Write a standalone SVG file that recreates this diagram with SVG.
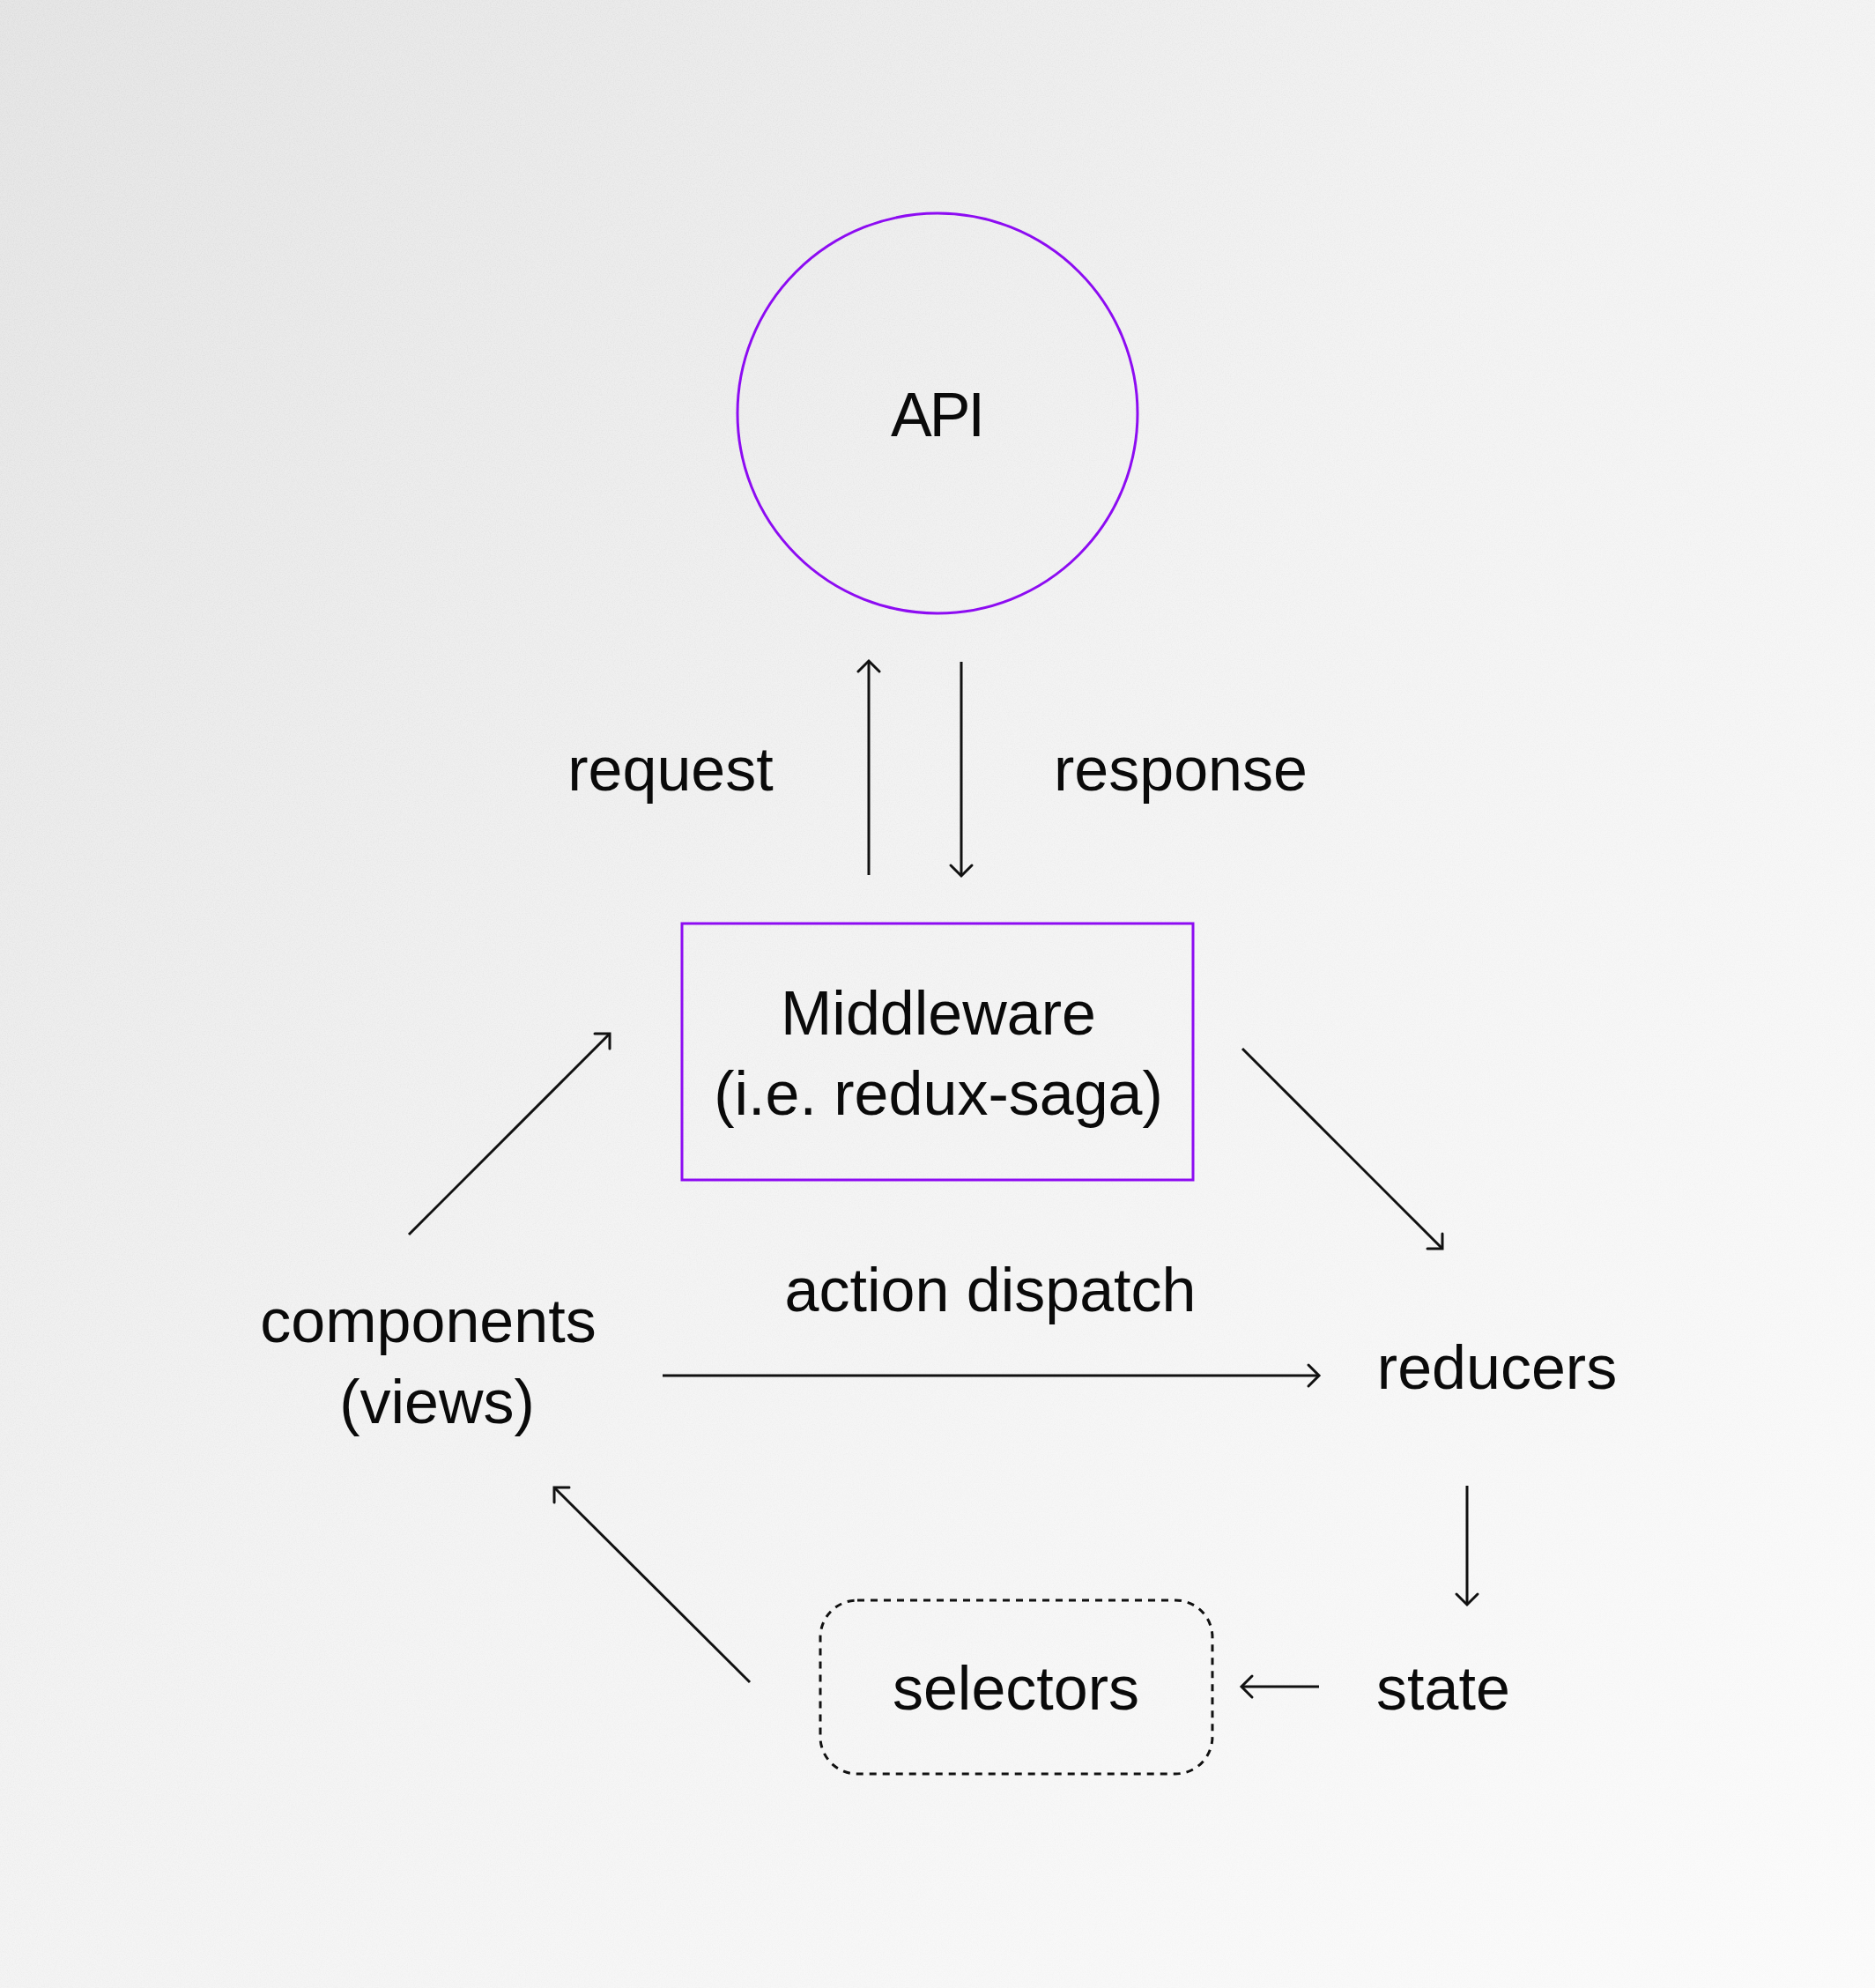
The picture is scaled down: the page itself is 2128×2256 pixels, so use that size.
<svg xmlns="http://www.w3.org/2000/svg" width="2128" height="2256" viewBox="0 0 2128 2256">
  <defs>
    <linearGradient id="bg" x1="0" y1="0" x2="1" y2="1">
      <stop offset="0" stop-color="#e6e6e6"/>
      <stop offset="0.45" stop-color="#f3f3f3"/>
      <stop offset="1" stop-color="#fbfbfb"/>
    </linearGradient>
    <linearGradient id="fade" x1="0" y1="0" x2="1" y2="1">
      <stop offset="0" stop-color="#fff" stop-opacity="1"/>
      <stop offset="0.55" stop-color="#fff" stop-opacity="0.4"/>
      <stop offset="1" stop-color="#fff" stop-opacity="0.15"/>
    </linearGradient>
    <mask id="noiseMask">
      <rect width="2128" height="2256" fill="url(#fade)"/>
    </mask>
    <filter id="noise" x="0" y="0" width="100%" height="100%">
      <feTurbulence type="fractalNoise" baseFrequency="0.85" numOctaves="2" seed="3" result="t"/>
      <feColorMatrix in="t" type="matrix" values="0 0 0 0 0.55  0 0 0 0 0.55  0 0 0 0 0.55  1.6 0 0 0 -0.62"/>
    </filter>
    <marker id="arrow" markerUnits="userSpaceOnUse" markerWidth="40" markerHeight="40" viewBox="-20 -20 40 40" refX="0" refY="0" orient="auto">
      <path d="M-12,-12 L0,0 L-12,12" fill="none" stroke="#111" stroke-width="3" stroke-linecap="round" stroke-linejoin="miter"/>
    </marker>
    <style>
      .lbl { font-family: "Liberation Sans", Arial, sans-serif; font-size: 70px; fill: #0a0a0a; text-anchor: middle; }
      .conn { stroke: #111; stroke-width: 3; fill: none; marker-end: url(#arrow); }
      .purple { stroke: #8d0cf2; stroke-width: 3; fill: none; }
    </style>
  </defs>

  <rect width="2128" height="2256" fill="url(#bg)"/>
  <rect width="2128" height="2256" filter="url(#noise)" opacity="0.35" mask="url(#noiseMask)"/>

  <g id="api">
    <circle class="purple" cx="1064" cy="469" r="227"/>
    <text class="lbl" x="1063" y="495" letter-spacing="-3">API</text>
  </g>

  <g id="middleware">
    <rect class="purple" x="774" y="1048" width="580" height="291"/>
    <text class="lbl" x="1065" y="1174">Middleware</text>
    <text class="lbl" x="1065" y="1265">(i.e. redux-saga)</text>
  </g>

  <g id="components">
    <text class="lbl" x="486" y="1523">components</text>
    <text class="lbl" x="496" y="1615">(views)</text>
  </g>

  <g id="reducers">
    <text class="lbl" x="1699" y="1576">reducers</text>
  </g>

  <g id="state">
    <text class="lbl" x="1638" y="1940">state</text>
  </g>

  <g id="selectors">
    <rect x="931" y="1816" width="445" height="197" rx="42" ry="42" fill="none" stroke="#111" stroke-width="3" stroke-dasharray="8 7"/>
    <text class="lbl" x="1153" y="1940">selectors</text>
  </g>

  <g id="labels">
    <text class="lbl" x="761" y="897">request</text>
    <text class="lbl" x="1340" y="897">response</text>
    <text class="lbl" x="1124" y="1488">action dispatch</text>
  </g>

  <g id="connectors">
    <line class="conn" x1="986" y1="993" x2="986" y2="750"/>
    <line class="conn" x1="1091" y1="751" x2="1091" y2="994"/>
    <line class="conn" x1="464" y1="1401" x2="692" y2="1173"/>
    <line class="conn" x1="1410" y1="1190" x2="1637" y2="1417"/>
    <line class="conn" x1="752" y1="1561" x2="1497" y2="1561"/>
    <line class="conn" x1="1665" y1="1686" x2="1665" y2="1821"/>
    <line class="conn" x1="1497" y1="1914" x2="1409" y2="1914"/>
    <line class="conn" x1="851" y1="1909" x2="629" y2="1688"/>
  </g>
</svg>
